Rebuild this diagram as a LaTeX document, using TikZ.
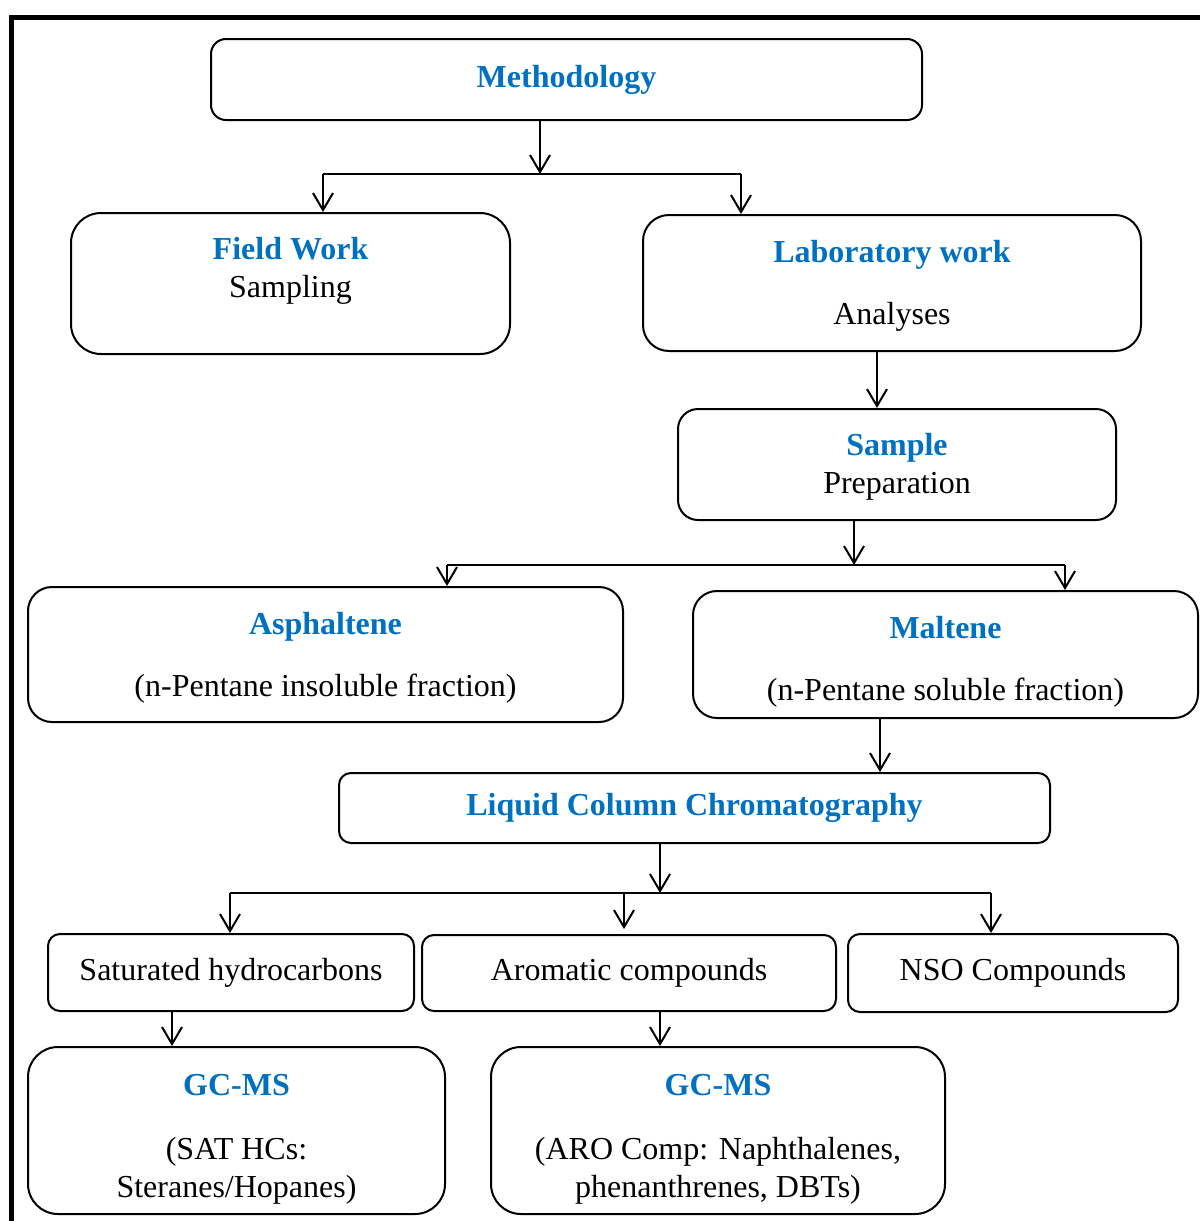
\documentclass[tikz,border=0pt]{standalone}
\usepackage{fontspec}
\setmainfont{Liberation Serif}
\usepackage{xcolor}
\usetikzlibrary{arrows.meta, positioning, calc}

\definecolor{titleblue}{HTML}{0070C0}
\newcommand{\boxtitle}[1]{\textbf{\textcolor{titleblue}{#1}}}

\begin{document}
\begin{tikzpicture}[x=0.5pt, y=-0.5pt,
  every node/.style={font=\fontsize{16}{19}\selectfont},
  box/.style={draw=black, line width=1pt, align=center, inner sep=0pt},
  arr/.style={-{Straight Barb[length=8.5pt, width=10pt]}, line width=1pt}]

\useasboundingbox (0,0) rectangle (1200,1221);

% ------------------------------------------------------------------
% OUTER FRAME (top and left edges only)
% ------------------------------------------------------------------
\draw[line width=2.5pt] (11,1221) -- (11,17) -- (1200,17);

% ------------------------------------------------------------------
% TOP LEVEL
% ------------------------------------------------------------------
\node[box, rounded corners=7.5pt, minimum width=355.5pt, minimum height=40.5pt]
  (meth) at (566.5,79.5) {\boxtitle{Methodology}};

\node[box, rounded corners=15pt, minimum width=219.5pt, minimum height=70.5pt]
  (fw) at (290.5,283.5) {\rule{0pt}{13pt}\boxtitle{Field Work}\\Sampling\\[-0.5pt]\mbox{}};
\node[box, rounded corners=13pt, minimum width=249pt, minimum height=68pt]
  (lab) at (892,283) {\rule{0pt}{14pt}\boxtitle{Laboratory work}\\[12pt]Analyses};

\node[box, rounded corners=10pt, minimum width=219pt, minimum height=55.5pt]
  (sam) at (897,464.5) {\rule{0pt}{13pt}\boxtitle{Sample}\\Preparation};

% ------------------------------------------------------------------
% FRACTIONS
% ------------------------------------------------------------------
\node[box, rounded corners=12pt, minimum width=297.5pt, minimum height=67.5pt]
  (asp) at (325.5,654.5) {\rule{0pt}{14pt}\boxtitle{Asphaltene}\\[12pt](n-Pentane insoluble fraction)};
\node[box, rounded corners=12pt, minimum width=252.5pt, minimum height=63.5pt]
  (mal) at (945.5,654.5) {\rule{0pt}{18pt}\boxtitle{Maltene}\\[12pt](n-Pentane soluble fraction)};

\node[box, rounded corners=6pt, minimum width=355.5pt, minimum height=35pt]
  (lcc) at (694.5,808) {\boxtitle{Liquid Column Chromatography}};

\node[box, rounded corners=6pt, minimum width=183pt, minimum height=38.5pt]
  (sat) at (231,972.5) {Saturated hydrocarbons};
\node[box, rounded corners=6pt, minimum width=207pt, minimum height=38pt]
  (aro) at (629,973) {Aromatic compounds};
\node[box, rounded corners=6pt, minimum width=165pt, minimum height=39pt]
  (nso) at (1013,973) {NSO Compounds};

% ------------------------------------------------------------------
% GC-MS
% ------------------------------------------------------------------
\node[box, rounded corners=15pt, minimum width=208.5pt, minimum height=83.5pt]
  (gcl) at (236.5,1130.5) {\rule{0pt}{19pt}\boxtitle{GC-MS}\\[13pt](SAT HCs:\\Steranes/Hopanes)};
\node[box, rounded corners=15pt, minimum width=227pt, minimum height=83.5pt]
  (gcr) at (718,1130.5) {\rule{0pt}{19pt}\boxtitle{GC-MS}\\[13pt](ARO Comp: Naphthalenes,\\phenanthrenes, DBTs)};

% ------------------------------------------------------------------
% CONNECTORS
% ------------------------------------------------------------------
\coordinate (j1) at (540,174);
\coordinate (j1l) at (323,174);
\coordinate (j1r) at (741,174);
\draw[arr] (meth.south -| j1) -- (j1);
\draw[line width=1pt] (j1l) -- (j1r);
\draw[arr] (j1l) -- (j1l |- fw.north);
\draw[arr] (j1r) -- (j1r |- lab.north);

\draw[arr] ([xshift=-7.5pt]lab.south) -- ([xshift=-7.5pt]lab.south |- sam.north);

\coordinate (j2) at (854,565);
\coordinate (j2l) at (447,565);
\coordinate (j2r) at (1065,565);
\draw[arr] (sam.south -| j2) -- (j2);
\draw[line width=1pt] (j2l) -- (j2r);
\draw[arr] (j2l) -- (j2l |- asp.north);
\draw[arr] (j2r) -- (j2r |- mal.north);

\draw[arr] ([xshift=-32.75pt]mal.south) -- ([xshift=-32.75pt]mal.south |- lcc.north);

\coordinate (j4) at (660,893);
\coordinate (j4l) at (230,893);
\coordinate (j4m) at (624,893);
\coordinate (j4r) at (991,893);
\draw[arr] (lcc.south -| j4) -- (j4);
\draw[line width=1pt] (j4l) -- (j4r);
\draw[arr] (j4l) -- (j4l |- sat.north);
\draw[arr] (j4m) -- ([yshift=2.5pt]j4m |- aro.north);
\draw[arr] (j4r) -- (j4r |- nso.north);

\draw[arr] ([xshift=-29.5pt]sat.south) -- ([xshift=-29.5pt]sat.south |- gcl.north);
\draw[arr] ([xshift=15.5pt]aro.south) -- ([xshift=15.5pt]aro.south |- gcr.north);

\end{tikzpicture}
\end{document}
